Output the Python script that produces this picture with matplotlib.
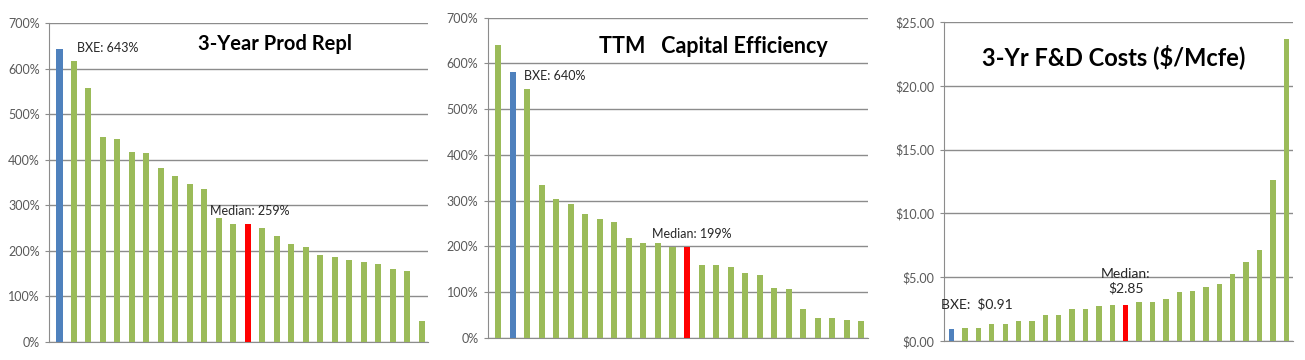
import matplotlib.pyplot as plt
from matplotlib.ticker import FuncFormatter

# datos
prod_repl = [643, 616, 558, 450, 446, 418, 415, 381, 364, 346, 335, 273, 259,
             259, 250, 232, 214, 209, 190, 187, 179, 176, 171, 160, 156, 47]
cap_eff = [640, 582, 544, 333, 303, 293, 271, 260, 253, 217, 206, 206, 199,
           199, 160, 160, 155, 141, 137, 109, 107, 63, 43, 42, 39, 36]
fd_costs = [0.91, 0.99, 1.04, 1.31, 1.33, 1.54, 1.54, 2.01, 2.06, 2.48, 2.53,
            2.72, 2.85, 2.85, 3.03, 3.03, 3.27, 3.81, 3.92, 4.23, 4.44, 5.28,
            6.17, 7.11, 12.59, 23.69]

# indices de BXE y mediana
bxe_idx = [0, 1, 0]
median_idx = [13, 13, 13]

GREEN = '#9BBB59'
BLUE = '#4F81BD'
RED = '#FF0000'
GRID = '#8C8C8C'
TICK = '#595959'

plt.rcParams['font.family'] = ['Lato', 'DejaVu Sans']

fig = plt.figure(figsize=(13.05, 3.6), dpi=100)

def panel(rect, vals, bxe, med, ylim, yticks, fmt, xlim, width):
    ax = fig.add_axes(rect)
    colores = [GREEN] * len(vals)
    colores[bxe] = BLUE
    colores[med] = RED
    ax.bar(range(len(vals)), vals, width=width, color=colores, zorder=3)
    ax.set_xlim(*xlim)
    ax.set_ylim(*ylim)
    ax.set_yticks(yticks)
    ax.yaxis.set_major_formatter(FuncFormatter(fmt))
    ax.set_xticks([])
    ax.grid(axis='y', color=GRID, linewidth=1.0, zorder=0)
    for s in ['top', 'right']:
        ax.spines[s].set_visible(False)
    ax.spines['left'].set_color(GRID)
    ax.spines['bottom'].set_color(GRID)
    ax.tick_params(axis='y', length=3, color=GRID, labelcolor=TICK,
                   labelsize=9, pad=4)
    return ax

pct = lambda v, p: '%d%%' % v
dol = lambda v, p: '$%.2f' % v

ax1 = panel([0.0378, 0.05, 0.2904, 0.886], prod_repl, bxe_idx[0], median_idx[0],
            (0, 700), range(0, 701, 100), pct, (-0.7, 25.46), 0.42)
ax1.text(1.2, 645, 'BXE: 643%', fontsize=9, color='#262626', va='center')
ax1.text(10.4, 287, 'Median: 259%', fontsize=9, color='#262626', va='center')
ax1.text(14.9, 654, '3-Year Prod Repl', fontsize=14.5, fontweight='bold',
         ha='center', va='center', color='black')

ax2 = panel([0.374, 0.062, 0.291, 0.889], cap_eff, bxe_idx[1], median_idx[1],
            (0, 700), range(0, 701, 100), pct, (-0.69, 25.44), 0.42)
ax2.text(1.8, 572, 'BXE: 640%', fontsize=9, color='#262626', va='center')
ax2.text(10.6, 227, 'Median: 199%', fontsize=9, color='#262626', va='center')
ax2.text(14.8, 636, 'TTM   Capital Efficiency', fontsize=15.5, fontweight='bold',
         ha='center', va='center', color='black')

ax3 = panel([0.7234, 0.0528, 0.2674, 0.886], fd_costs, bxe_idx[2], median_idx[2],
            (0, 25), [0, 5, 10, 15, 20, 25], dol, (-0.57, 25.5), 0.4)
ax3.text(-0.8, 2.9, 'BXE:  $0.91', fontsize=10, color='#262626', va='center')
ax3.text(13, 4.7, 'Median:\n$2.85', fontsize=10, color='#262626',
         ha='center', va='center', linespacing=1.2)
ax3.text(12.1, 22.3, '3-Yr F&D Costs ($/Mcfe)', fontsize=17, fontweight='bold',
         ha='center', va='center', color='black')

fig.savefig('out.png', dpi=100)
